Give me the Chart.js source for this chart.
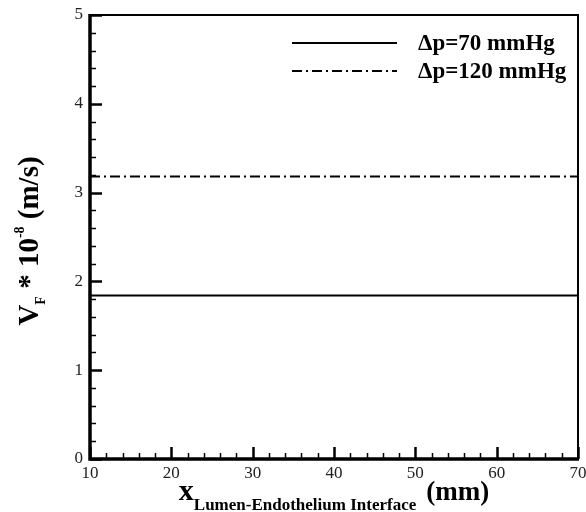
<!DOCTYPE html>
<html>
<head>
<meta charset="utf-8">
<script src="https://cdn.jsdelivr.net/npm/chart.js@4.4.0/dist/chart.umd.min.js"></script>
<style>
  body { margin: 0; background: #fff; }
  #wrap { width: 586px; height: 512px; }
</style>
</head>
<body>
<div id="wrap"><canvas id="vfChart" width="586" height="512"></canvas></div>
<script>
// data
var xValues = [10, 70];
var vf70 = [1.84, 1.84];
var vf120 = [3.18, 3.18];
var seriesLabels = ["\u0394p=70 mmHg", "\u0394p=120 mmHg"];
var xTickLabels = [10, 20, 30, 40, 50, 60, 70];
var yTickLabels = [0, 1, 2, 3, 4, 5];

var serif = "'Liberation Serif', 'Times New Roman', serif";

function toPoints(ys) {
  return xValues.map(function (x, i) {
    return { x: x, y: ys[i] };
  });
}

// frame, inward ticks, legend and axis titles
var decorPlugin = {
  id: "decor",
  afterDraw: function (chart) {
    var ctx = chart.ctx;
    var a = chart.chartArea;
    var xs = chart.scales.x;
    var ys = chart.scales.y;
    ctx.save();
    ctx.strokeStyle = "#000";

    // minor + major ticks
    for (var v = 10; v <= 70.001; v += 2) {
      var px = Math.round(xs.getPixelForValue(v)) + 0.5;
      var len = xTickLabels.indexOf(Math.round(v)) >= 0 ? 12 : 6;
      ctx.lineWidth = len === 12 ? 2.5 : 1.5;
      ctx.beginPath();
      ctx.moveTo(px, a.bottom);
      ctx.lineTo(px, a.bottom - len);
      ctx.stroke();
    }
    for (var w = 0; w <= 5.001; w += 0.2) {
      var py = Math.round(ys.getPixelForValue(w)) + 0.5;
      var major = Math.abs(w - Math.round(w)) < 0.01;
      ctx.lineWidth = major ? 2.5 : 1.5;
      ctx.beginPath();
      ctx.moveTo(a.left, py);
      ctx.lineTo(a.left + (major ? 12 : 6), py);
      ctx.stroke();
    }

    // frame
    ctx.lineWidth = 2;
    ctx.beginPath();
    ctx.moveTo(a.left, a.top);
    ctx.lineTo(a.right, a.top);
    ctx.lineTo(a.right, a.bottom);
    ctx.stroke();
    ctx.lineWidth = 3.5;
    ctx.beginPath();
    ctx.moveTo(a.left, a.top - 1);
    ctx.lineTo(a.left, a.bottom);
    ctx.lineTo(a.right + 1, a.bottom);
    ctx.stroke();

    // legend
    var ds = chart.data.datasets;
    ctx.font = "bold 23px " + serif;
    ctx.textBaseline = "middle";
    ctx.fillStyle = "#000";
    for (var i = 0; i < ds.length; i++) {
      var ly = a.top + 28 + i * 28;
      ctx.lineWidth = 2;
      ctx.setLineDash(ds[i].borderDash || []);
      ctx.beginPath();
      ctx.moveTo(a.left + 202, ly);
      ctx.lineTo(a.left + 307, ly);
      ctx.stroke();
      ctx.setLineDash([]);
      ctx.fillText(ds[i].label, a.left + 328, ly + 1);
    }

    // x title with subscript
    ctx.textBaseline = "alphabetic";
    var bigX = "bold 30px " + serif;
    var mmF = "bold 27px " + serif;
    var sub = "bold 17px " + serif;
    ctx.font = bigX;
    var wx = ctx.measureText("x").width;
    ctx.font = mmF;
    var wmm = ctx.measureText("(mm)").width;
    ctx.font = sub;
    var wsub = ctx.measureText("Lumen-Endothelium Interface").width;
    var gap = 10;
    var total = wx + wsub + gap + wmm;
    var sx = (a.left + a.right) / 2 - total / 2;
    var by = 500;
    ctx.font = bigX;
    ctx.fillText("x", sx, by);
    ctx.font = sub;
    ctx.fillText("Lumen-Endothelium Interface", sx + wx, by + 10);
    ctx.font = mmF;
    ctx.fillText("(mm)", sx + wx + wsub + gap, by);

    // y title, rotated
    ctx.translate(38, 241);
    ctx.rotate(-Math.PI / 2);
    var mainF = "bold 29px " + serif;
    var smallF = "bold 14px " + serif;
    var parts = [
      { t: "V", f: mainF, dy: 0 },
      { t: "F", f: smallF, dy: 7 },
      { t: " * 10", f: mainF, dy: 0 },
      { t: "-8", f: smallF, dy: -14 },
      { t: " (m/s)", f: mainF, dy: 0 }
    ];
    var tw = 0;
    parts.forEach(function (p) {
      ctx.font = p.f;
      p.w = ctx.measureText(p.t).width;
      tw += p.w;
    });
    var cx = -tw / 2;
    parts.forEach(function (p) {
      ctx.font = p.f;
      ctx.fillText(p.t, cx, p.dy);
      cx += p.w;
    });
    ctx.restore();
  }
};

var ctx = document.getElementById("vfChart").getContext("2d");
var vfChart = new Chart(ctx, {
  type: "line",
  data: {
    datasets: [
      {
        label: seriesLabels[0],
        data: toPoints(vf70),
        borderColor: "#000",
        borderWidth: 2,
        pointRadius: 0,
        fill: false
      },
      {
        label: seriesLabels[1],
        data: toPoints(vf120),
        borderColor: "#000",
        borderWidth: 2,
        borderDash: [10, 4, 2, 4],
        pointRadius: 0,
        fill: false
      }
    ]
  },
  options: {
    responsive: false,
    animation: false,
    devicePixelRatio: 1,
    layout: { padding: { top: 15, right: 8, left: 0, bottom: 0 } },
    plugins: {
      legend: { display: false },
      tooltip: { enabled: false }
    },
    scales: {
      x: {
        type: "linear",
        min: 10,
        max: 70,
        afterFit: function (s) {
          s.height = 53;
          s.paddingLeft = 0;
          s.paddingRight = 0;
        },
        afterBuildTicks: function (s) {
          s.ticks = xTickLabels.map(function (v) { return { value: v }; });
        },
        ticks: {
          color: "#222",
          padding: 4,
          maxRotation: 0,
          font: { family: serif, size: 17 }
        },
        grid: { display: false, drawTicks: false },
        border: { display: false }
      },
      y: {
        min: 0,
        max: 5,
        afterFit: function (s) {
          s.width = 90;
          s.paddingTop = 0;
          s.paddingBottom = 0;
        },
        afterBuildTicks: function (s) {
          s.ticks = yTickLabels.map(function (v) { return { value: v }; });
        },
        ticks: {
          color: "#222",
          padding: 7,
          font: { family: serif, size: 17 }
        },
        grid: { display: false, drawTicks: false },
        border: { display: false }
      }
    }
  },
  plugins: [decorPlugin]
});
</script>
</body>
</html>
